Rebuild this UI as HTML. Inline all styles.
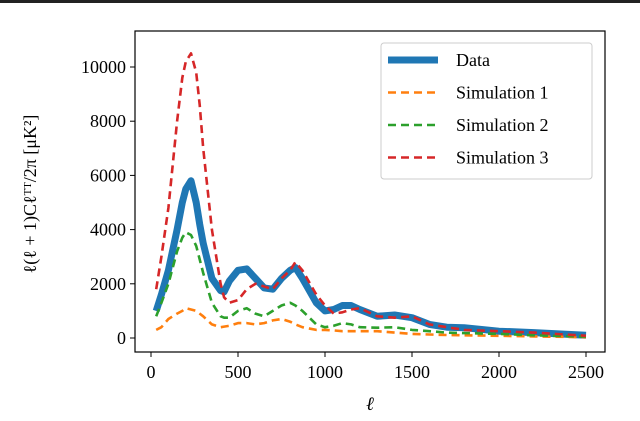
<!DOCTYPE html>
<html><head><meta charset="utf-8"><style>
body{margin:0;background:#fff;width:640px;height:416px;overflow:hidden}
svg text{font-family:"Liberation Serif",serif;fill:#000}
</style></head><body>
<svg width="640" height="416">
<rect x="0" y="0" width="640" height="3" fill="#222"/>
<g id="plot"></g>
</svg>
<script>
const ells=[30,60,100,150,180,200,230,260,280,300,350,400,420,450,500,550,600,650,700,750,800,830,870,950,1000,1050,1100,1150,1200,1300,1400,1500,1600,1700,1800,2000,2200,2500];
const dataVals=[1000,1600,2500,4000,5000,5500,5800,5000,4200,3500,2200,1750,1700,2100,2500,2550,2200,1850,1800,2200,2500,2600,2200,1300,1000,1050,1200,1200,1050,800,850,750,500,400,380,250,200,100];
const sim1Vals=[300,400,700,900,1000,1100,1050,1000,900,800,500,400,420,450,550,550,500,550,650,700,600,500,400,300,300,280,250,250,250,250,200,150,130,110,100,80,60,30];
const sim2Vals=[800,1300,2000,3200,3700,3900,3800,3400,2900,2400,1300,800,750,750,1000,1100,900,800,1000,1200,1300,1200,1000,500,400,450,550,500,400,380,400,300,250,200,180,150,100,50];
const sim3Vals=[1800,3000,4800,8000,9600,10200,10500,9800,8600,7000,4000,2000,1500,1300,1400,1800,2000,1900,1800,2200,2500,2800,2500,1600,1200,900,950,1050,1100,800,750,800,500,400,300,250,200,80];
const xTicks=[0,500,1000,1500,2000,2500];
const yTicks=[0,2000,4000,6000,8000,10000];
const legendLabels=["Data","Simulation 1","Simulation 2","Simulation 3"];
const X=v=>151+v*0.174, Y=v=>338-v*0.0271;
const NS="http://www.w3.org/2000/svg", g=document.getElementById('plot');
function mk(t,a){const e=document.createElementNS(NS,t);for(const k in a)e.setAttribute(k,a[k]);g.appendChild(e);return e;}
const frame=mk('rect',{x:135,y:31,width:470,height:321,fill:'none',stroke:'#000','stroke-width':1.2});


xTicks.forEach(t=>{const l=mk('line',{x1:X(t),x2:X(t),y1:352,y2:357,stroke:'#000'});


const tx=mk('text',{x:X(t),y:378,'text-anchor':'middle','font-size':18});tx.textContent=t;

});
yTicks.forEach(t=>{const l=mk('line',{x1:130,x2:135,y1:Y(t),y2:Y(t),stroke:'#000'});


const tx=mk('text',{x:126,y:Y(t)+6,'text-anchor':'end','font-size':18});tx.textContent=t;

});
const series=[[dataVals,'#1f77b4',7,''],[sim1Vals,'#ff7f0e',2.6,'8,5'],[sim2Vals,'#2ca02c',2.6,'8,5'],[sim3Vals,'#d62728',2.6,'8,5']];
const names=['data-line','simulation-1-line','simulation-2-line','simulation-3-line'];
series.forEach((s,i)=>{const d=ells.map((e,j)=>(j?'L':'M')+X(e).toFixed(1)+','+Y(s[0][j]).toFixed(1)).join('');
const p=mk('path',{d:d,fill:'none',stroke:s[1],'stroke-width':s[2],'stroke-dasharray':s[3],'stroke-linejoin':'round'});

});
const lb=mk('rect',{x:381,y:43,width:211,height:136,rx:3,fill:'#fff','fill-opacity':0.8,stroke:'#ccc'});


legendLabels.forEach((n,i)=>{const y=60+i*32.5,s=series[i];
const l=mk('line',{x1:388,x2:438,y1:y,y2:y,stroke:s[1],'stroke-width':s[2],'stroke-dasharray':s[3]});


const t=mk('text',{x:456,y:y+6,'font-size':18});t.textContent=n;

});
const xl=mk('text',{x:370,y:410,'text-anchor':'middle','font-size':19,'font-style':'italic'});xl.textContent='ℓ';


const yl=mk('text',{x:0,y:0,'text-anchor':'middle','font-size':18,transform:'translate(36,194) rotate(-90)'});
yl.textContent='ℓ(ℓ + 1)C\u2113ᵀᵀ/2π [μK²]';


</script>
</body></html>
